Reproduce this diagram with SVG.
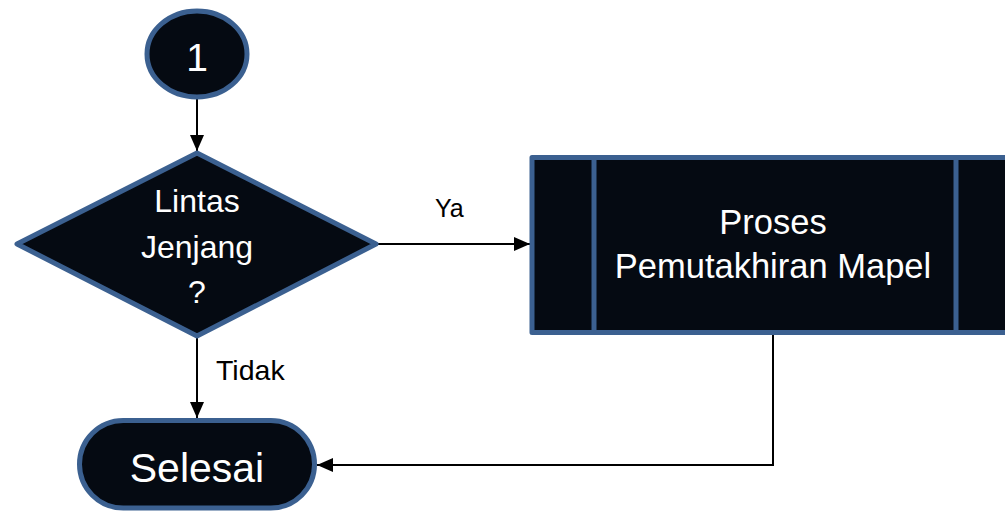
<svg xmlns="http://www.w3.org/2000/svg" width="1005" height="511" viewBox="0 0 1005 511">
<style>
.shape{fill:#050a12;stroke:#3b6090;stroke-width:5;stroke-linejoin:round}
.divider{stroke:#3b6090;stroke-width:5}
.wt{fill:#ffffff;font-family:"Liberation Sans",Arial,sans-serif;text-anchor:middle}
.bt{fill:#000000;font-family:"Liberation Sans",Arial,sans-serif}
.conn{fill:none;stroke:#000000;stroke-width:2}
</style>
<defs>
<marker id="arrow" markerWidth="16" markerHeight="14" refX="16" refY="7" orient="auto" markerUnits="userSpaceOnUse">
<path d="M0,0 L16,7 L0,14 Z" fill="#000000"/>
</marker>
</defs>
<g id="connectors">
<line class="conn" x1="197" y1="99" x2="197" y2="151" marker-end="url(#arrow)"/>
<line class="conn" x1="378" y1="244" x2="530" y2="244" marker-end="url(#arrow)"/>
<line class="conn" x1="197" y1="338" x2="197" y2="418" marker-end="url(#arrow)"/>
<polyline class="conn" points="773,334 773,465 317,465" marker-end="url(#arrow)"/>
<text class="bt" x="435" y="217" font-size="25">Ya</text>
<text class="bt" x="216" y="380" font-size="28.5">Tidak</text>
</g>
<g id="start">
<ellipse class="shape" cx="197" cy="54" rx="50" ry="43"/>
<text class="wt" x="197" y="71" font-size="39">1</text>
</g>
<g id="decision">
<polygon class="shape" points="197,153 376,244 197,336 17,244"/>
<text class="wt" x="197" y="212" font-size="32">Lintas</text>
<text class="wt" x="197" y="258" font-size="32">Jenjang</text>
<text class="wt" x="197" y="303" font-size="32">?</text>
</g>
<g id="process">
<rect class="shape" x="532" y="157.5" width="520" height="175"/>
<line class="divider" x1="594" y1="157.5" x2="594" y2="332.5"/>
<line class="divider" x1="956" y1="157.5" x2="956" y2="332.5"/>
<text class="wt" x="773" y="234" font-size="34.5">Proses</text>
<text class="wt" x="773" y="278" font-size="34.5">Pemutakhiran Mapel</text>
</g>
<g id="end">
<rect class="shape" x="79.5" y="420.5" width="235" height="87.5" rx="43.75" ry="43.75"/>
<text class="wt" x="197" y="482" font-size="41">Selesai</text>
</g>
</svg>
